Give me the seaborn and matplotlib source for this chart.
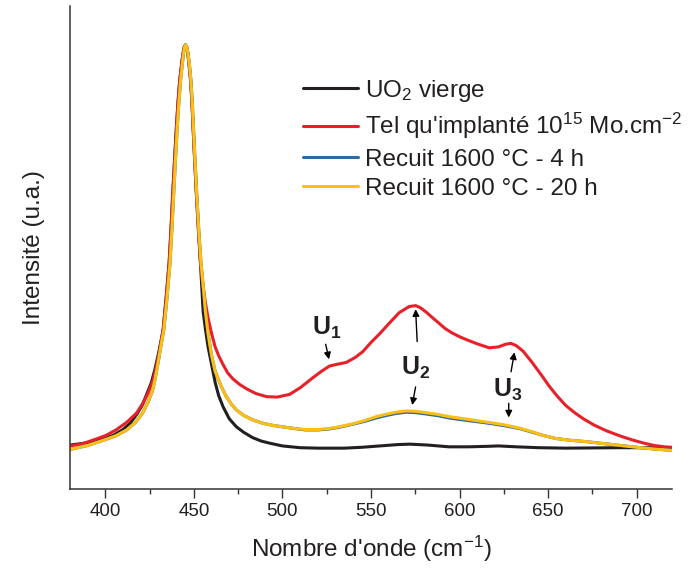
import matplotlib
matplotlib.use("Agg")
import matplotlib.pyplot as plt
import seaborn as sns
from matplotlib.ticker import MultipleLocator

# Raman spectra, normalised intensity
x_vierge = [380, 388, 395, 400, 405, 410, 414, 418, 421, 423.5, 426, 428, 430, 432.6,
            434.3, 436, 437, 438, 439, 440, 441, 442, 443, 443.8, 444.5, 445.2, 445.9,
            446.6, 447.3, 448.1, 448.9, 449.6, 450.5, 451.5, 452.6, 453.7, 455.2,
            456.5, 458, 460, 462, 464, 466.5, 470, 474, 478, 483, 488, 493, 500, 510,
            520, 535, 545, 555, 565, 572, 582, 594, 605, 615, 622, 632, 645, 660,
            690, 720]
y_vierge = [0.099, 0.103, 0.108, 0.114, 0.122, 0.134, 0.148, 0.170, 0.190, 0.215,
            0.240, 0.270, 0.305, 0.358, 0.430, 0.509, 0.580, 0.658, 0.735, 0.809,
            0.870, 0.921, 0.955, 0.980, 0.995, 1.000, 0.995, 0.980, 0.955, 0.921,
            0.870, 0.809, 0.735, 0.658, 0.580, 0.509, 0.400, 0.360, 0.320, 0.280,
            0.240, 0.210, 0.185, 0.158, 0.140, 0.128, 0.116, 0.108, 0.103, 0.097,
            0.093, 0.092, 0.092, 0.094, 0.097, 0.100, 0.101, 0.099, 0.095, 0.095,
            0.096, 0.097, 0.095, 0.093, 0.092, 0.093, 0.093]

x_impl = [380, 387, 393, 400, 406, 412, 417.6, 421, 424, 427, 429, 431, 432.6, 434.3,
          436, 437, 437.9, 439, 440.1, 441, 442, 443, 443.8, 444.5, 445.2, 445.9,
          446.6, 447.3, 448.1, 448.9, 449.6, 450.5, 451.5, 452.6, 453.7, 455, 456.5,
          458, 460, 462, 464, 466.5, 469, 472, 476, 480, 485, 491, 497, 504, 510,
          517, 522, 526.6, 531, 536, 541, 545.3, 550, 555, 560, 565.9, 571.6, 575.3,
          578, 581, 585, 588.5, 592, 596, 600, 603.5, 610, 616.7, 622, 626, 629,
          632, 636, 641, 646, 650.6, 655, 660, 665, 670, 676, 683, 691, 698, 704.4,
          710, 715.7, 720]
y_impl = [0.097, 0.102, 0.110, 0.120, 0.133, 0.150, 0.171, 0.192, 0.215, 0.2455,
          0.280, 0.320, 0.358, 0.430, 0.509, 0.580, 0.658, 0.735, 0.809, 0.870,
          0.921, 0.955, 0.980, 0.995, 1.000, 0.995, 0.980, 0.955, 0.921, 0.870,
          0.809, 0.735, 0.658, 0.580, 0.509, 0.460, 0.420, 0.385, 0.350, 0.320,
          0.300, 0.280, 0.262, 0.248, 0.235, 0.225, 0.215, 0.208, 0.207, 0.213,
          0.228, 0.250, 0.265, 0.277, 0.281, 0.285, 0.296, 0.309, 0.330, 0.350,
          0.372, 0.397, 0.411, 0.413, 0.408, 0.399, 0.385, 0.373, 0.361, 0.351,
          0.343, 0.337, 0.327, 0.318, 0.320, 0.326, 0.328, 0.323, 0.310, 0.285,
          0.258, 0.232, 0.210, 0.188, 0.172, 0.158, 0.144, 0.131, 0.119, 0.110,
          0.103, 0.098, 0.095, 0.094]

x_recuit = [380, 390, 399, 406, 412, 417, 421, 424, 426.5, 428, 430, 431.7, 433,
            434.8, 436.5, 437.5, 438.5, 439.5, 440.5, 441.5, 442.5, 443.4, 444.1,
            444.7, 445.3, 446, 446.7, 447.5, 448.3, 449.1, 449.8, 450.7, 451.7,
            452.8, 454, 455.2, 456.5, 458, 460, 462, 465, 468, 471, 474, 478, 483,
            489, 495, 500, 507, 513, 520, 526, 532, 540, 547, 553, 558, 564, 570,
            575, 581, 588, 594, 603, 613, 620, 626, 634, 641, 647, 654, 662, 672,
            682, 691, 700, 710, 720]
y_recuit_20h = [0.089, 0.098, 0.110, 0.120, 0.133, 0.150, 0.171, 0.195, 0.220,
                0.2455, 0.290, 0.330, 0.358, 0.430, 0.509, 0.580, 0.658, 0.735,
                0.809, 0.870, 0.921, 0.955, 0.980, 0.995, 1.000, 0.995, 0.980,
                0.955, 0.921, 0.870, 0.809, 0.735, 0.658, 0.580, 0.509, 0.460,
                0.400, 0.350, 0.300, 0.265, 0.235, 0.210, 0.192, 0.178, 0.166,
                0.156, 0.148, 0.143, 0.140, 0.136, 0.134, 0.134, 0.136, 0.140,
                0.147, 0.155, 0.163, 0.168, 0.173, 0.176, 0.175, 0.172, 0.168,
                0.163, 0.158, 0.152, 0.148, 0.144, 0.137, 0.129, 0.121, 0.114,
                0.110, 0.1065, 0.102, 0.098, 0.094, 0.090, 0.087]
y_recuit_4h = [0.089, 0.098, 0.110, 0.120, 0.133, 0.150, 0.171, 0.195, 0.220,
               0.2455, 0.290, 0.330, 0.358, 0.430, 0.509, 0.580, 0.658, 0.735,
               0.809, 0.870, 0.921, 0.955, 0.980, 0.995, 1.000, 0.995, 0.980,
               0.955, 0.921, 0.870, 0.809, 0.735, 0.658, 0.580, 0.509, 0.460,
               0.400, 0.350, 0.300, 0.265, 0.235, 0.210, 0.192, 0.178, 0.166,
               0.156, 0.148, 0.143, 0.140, 0.136, 0.133, 0.133, 0.135, 0.139,
               0.146, 0.153, 0.160, 0.165, 0.170, 0.173, 0.172, 0.169, 0.165,
               0.160, 0.155, 0.150, 0.146, 0.142, 0.136, 0.128, 0.121, 0.114,
               0.110, 0.1065, 0.102, 0.098, 0.094, 0.090, 0.087]

labels = ["UO$_2$ vierge", "Tel qu'implanté 10$^{15}$ Mo.cm$^{-2}$",
          "Recuit 1600 °C - 4 h", "Recuit 1600 °C - 20 h"]
colors = ["#231f20", "#e8202a", "#2c6aa8", "#fcbf12"]

sns.set_style("ticks")
plt.rcParams["font.family"] = ["Liberation Sans", "DejaVu Sans"]
plt.rcParams["mathtext.fontset"] = "custom"
plt.rcParams["mathtext.rm"] = "Liberation Sans"
plt.rcParams["mathtext.it"] = "Liberation Sans:italic"
plt.rcParams["mathtext.bf"] = "Liberation Sans:bold"
ink = "#231f20"
plt.rcParams["text.color"] = ink
plt.rcParams["axes.labelcolor"] = ink
plt.rcParams["xtick.color"] = ink

fig = plt.figure(figsize=(6.9, 5.69), dpi=100)
ax = fig.add_axes([0.1014, 0.1406, 0.8725, 0.849])

series = [(x_vierge, y_vierge), (x_impl, y_impl), (x_recuit, y_recuit_4h), (x_recuit, y_recuit_20h)]
for (xs, ys), lab, col in zip(series, labels, colors):
    sns.lineplot(x=xs, y=ys, ax=ax, color=col, lw=2.2, label=lab, estimator=None, sort=False)

ax.set_xlim(380, 720)
ax.set_ylim(0, 1.088)
ax.set_yticks([])
ax.xaxis.set_major_locator(MultipleLocator(50))
ax.xaxis.set_minor_locator(MultipleLocator(25))
ax.tick_params(axis="x", which="major", length=6.5, width=1, labelsize=13.5, color="#333333")
ax.tick_params(axis="x", which="minor", length=3.5, width=1, color="#333333")
for side in ["top", "right"]:
    ax.spines[side].set_visible(False)
for side in ["left", "bottom"]:
    ax.spines[side].set_linewidth(1.1)
    ax.spines[side].set_color("#333333")

ax.set_xlabel("Nombre d'onde (cm$^{-1}$)", fontsize=17.5, labelpad=10)
ax.set_ylabel("Intensité (u.a.)", fontsize=17.5, labelpad=18)

leg = ax.legend(loc="upper left", bbox_to_anchor=(0.387, 0.851), frameon=False,
                fontsize=17.5, handlelength=2.25, handletextpad=0.3, labelspacing=0.3,
                borderpad=0, borderaxespad=0)

arrow = dict(arrowstyle="-|>", color="black", lw=1, mutation_scale=10, shrinkA=0, shrinkB=0)
ax.text(525, 0.363, r"$\mathbf{U_1}$", fontsize=18, ha="center", va="center")
ax.annotate("", xy=(526.3, 0.292), xytext=(524.4, 0.326), arrowprops=arrow)
ax.text(575.2, 0.272, r"$\mathbf{U_2}$", fontsize=18, ha="center", va="center")
ax.annotate("", xy=(575.2, 0.405), xytext=(576.1, 0.332), arrowprops=arrow)
ax.annotate("", xy=(573.3, 0.189), xytext=(575.2, 0.230), arrowprops=arrow)
ax.text(627, 0.223, r"$\mathbf{U_3}$", fontsize=18, ha="center", va="center")
ax.annotate("", xy=(631, 0.308), xytext=(629.1, 0.264), arrowprops=arrow)
ax.annotate("", xy=(627.8, 0.161), xytext=(627.8, 0.193), arrowprops=arrow)

fig.savefig("out.png", dpi=100)
